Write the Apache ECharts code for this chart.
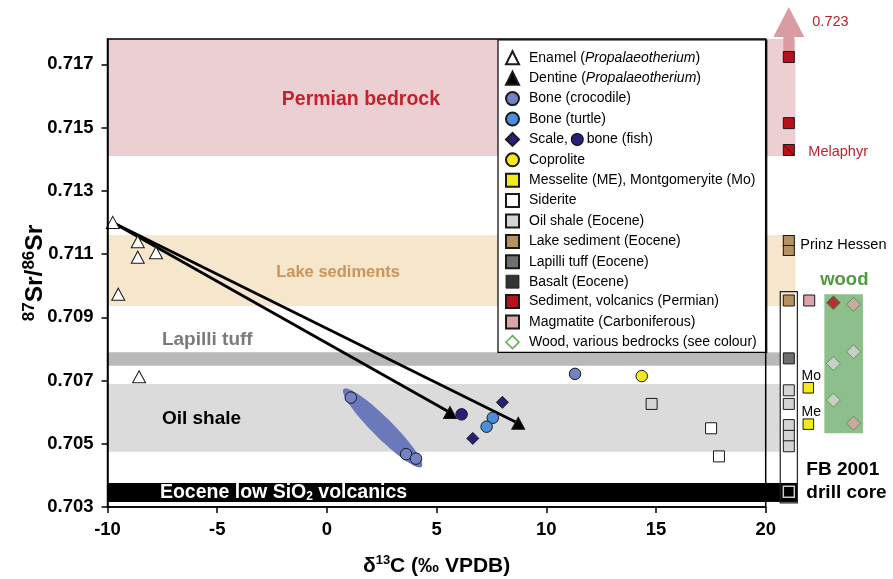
<!DOCTYPE html>
<html><head><meta charset="utf-8">
<script src="https://cdn.jsdelivr.net/npm/echarts@6/dist/echarts.min.js"></script>
<style>html,body{margin:0;padding:0;background:#fff}#c{width:893px;height:579px}</style>
</head><body><div id="c"></div>
<script>
// ---------------- DATA ----------------
const xTicks = [-10, -5, 0, 5, 10, 15, 20];
const yTicks = [0.703, 0.705, 0.707, 0.709, 0.711, 0.713, 0.715, 0.717];

// Main plot (x = d13C, y = 87Sr/86Sr)
const enamelX = [-9.76, -8.62, -8.62, -7.79, -9.51, -8.56];
const enamelY = [0.71200, 0.71139, 0.71090, 0.71104, 0.70973, 0.70712];
const dentineX = [5.61, 8.72];
const dentineY = [0.70599, 0.70565];
const crocX = [1.09, 3.61, 4.06, 11.31];
const crocY = [0.70646, 0.70467, 0.70453, 0.70721];
const turtleX = [7.56, 7.28];
const turtleY = [0.70582, 0.70554];
const fishScaleX = [8.00, 6.65];
const fishScaleY = [0.70631, 0.70517];
const fishBoneX = [6.14];
const fishBoneY = [0.70593];
const coproliteX = [14.35];
const coproliteY = [0.70714];
const oilShaleX = [14.80];
const oilShaleY = [0.70626];
const sideriteX = [17.51, 17.87];
const sideriteY = [0.70549, 0.70460];
// crocodile-bone field (ellipse end points)
const crocFieldX = [0.76, 4.32];
const crocFieldY = [0.70673, 0.70427];

// Reference bands
const bandNames = ['Permian bedrock', 'Lake sediments', 'Lapilli tuff', 'Oil shale', 'Eocene low SiO2 volcanics'];
const bandLow  = [0.71410, 0.70936, 0.70747, 0.70475, 0.70316];
const bandHigh = [0.71780, 0.71160, 0.70789, 0.70689, 0.70376];

// Right-hand columns (Sr only)
const coreLakeY = [0.70953];
const prinzHessenY = [0.71143, 0.71111];
const coreLapilliY = [0.70770];
const coreOilShaleY = [0.70669, 0.70626, 0.70559, 0.70525, 0.70492];
const coreBasaltY = [0.70348];
const permianY = [0.71723, 0.71514, 0.71429];
const permianRock = ['', '', 'Melaphyr'];
const permianMax = 0.723;
const magmatiteY = [0.70953];
const messeliteY = [0.70677, 0.70562];
const messeliteMineral = ['Mo', 'Me'];
const woodY = [0.70946, 0.70941, 0.70754, 0.70791, 0.70638, 0.70565];
const woodBedrock = ['Permian', 'Carboniferous', 'Oil shale', 'Oil shale', 'Oil shale', 'Carboniferous'];

// ---------------- LAYOUT / STYLE ----------------
const F = '"Liberation Sans", Arial, Helvetica, sans-serif';
const Y_MIN = 0.703, Y_MAX = 0.7178;
const X2_MAX = 25.789;
const COL_CORE = 21.04, COL_MAG = 21.97, COL_MES = 21.93, COL_WOOD = [23.07, 23.99];
const bandColors = ['#eccfd2', '#f6e6cb', '#b9b9b9', '#dbdbdb', '#000000'];
const bandRightEnd = [21.34, 21.34, 20.65, 20.65, 21.43];
const C = {
  croc: '#7382c4', turtle: '#4b8fdc', fish: '#27207a', copro: '#f2ea1c', mes: '#f2ea1c',
  oil: '#d4d4d4', lake: '#b59160', lap: '#6f6f6f', basalt: '#000', perm: '#b5121b', mag: '#dca3a9',
  woodEdge: '#4d8a3e', woodBox: '#8dbf8d', red: '#c0222d'
};
const woodColor = {'Permian': C.perm, 'Carboniferous': C.mag, 'Oil shale': C.oil};
const EDGE = '#1a1a1a';

function pts(xs, ys) { return ys.map((y, i) => [Array.isArray(xs) ? xs[i] : xs, y]); }
function sc(name, data, symbol, size, color, g, extra) {
  return Object.assign({
    type: 'scatter', name: name, xAxisIndex: g, yAxisIndex: g, symbol: symbol, symbolSize: size,
    itemStyle: {color: color, borderColor: EDGE, borderWidth: 1, opacity: 1},
    data: data, z: 5, animation: false
  }, extra || {});
}

// bands
function bandSeries(g, xs, xe) {
  return {
    type: 'custom', xAxisIndex: g, yAxisIndex: g, silent: true, z: 1,
    data: bandLow.map((lo, i) => [xs, lo, Array.isArray(xe) ? xe[i] : xe, bandHigh[i]]),
    renderItem: function (p, api) {
      const a = api.coord([api.value(0), api.value(3)]);
      const b = api.coord([api.value(2), api.value(1)]);
      return {type: 'rect', shape: {x: a[0], y: a[1], width: b[0] - a[0], height: b[1] - a[1]},
        style: {fill: bandColors[p.dataIndex]}};
    }
  };
}

// annotations
const notes = [
  {g: 0, x: 1.55, y: 0.71587, t: 'Permian bedrock', c: C.red, s: 19.5, w: 'bold', a: 'center'},
  {g: 0, x: 0.51, y: 0.71043, t: 'Lake sediments', c: '#c9955c', s: 16.5, w: 'bold', a: 'center'},
  {g: 0, x: -7.52, y: 0.70828, t: 'Lapilli tuff', c: '#7b7b7b', s: 19, w: 'bold', a: 'left'},
  {g: 0, x: -7.52, y: 0.70580, t: 'Oil shale', c: '#000', s: 19, w: 'bold', a: 'left'},
  {g: 0, x: -7.61, y: 0.70344, t: 'Eocene low SiO{sub|2} volcanics', c: '#fff', s: 19.5, w: 'bold', a: 'left'},
  {g: 1, x: 22.11, y: 0.71834, t: String(permianMax), c: C.red, s: 14.5, w: 'normal', a: 'left'},
  {g: 1, x: 21.93, y: 0.71423, t: 'Melaphyr', c: C.red, s: 14.5, w: 'normal', a: 'left'},
  {g: 1, x: 21.56, y: 0.71129, t: 'Prinz Hessen', c: '#000', s: 14.5, w: 'normal', a: 'left'},
  {g: 1, x: 23.57, y: 0.71018, t: 'wood', c: '#4e9a3e', s: 18.5, w: 'bold', a: 'center'},
  {g: 1, x: 21.84, y: 0.70417, t: 'FB 2001', c: '#000', s: 19, w: 'bold', a: 'left'},
  {g: 1, x: 21.84, y: 0.70344, t: 'drill core', c: '#000', s: 19, w: 'bold', a: 'left'}
];
function noteSeries(g) {
  const list = notes.filter(n => n.g === g);
  return {
    type: 'custom', xAxisIndex: g, yAxisIndex: g, silent: true, z: 8,
    data: list.map(n => [n.x, n.y]),
    renderItem: function (p, api) {
      const n = list[p.dataIndex];
      const c = api.coord([api.value(0), api.value(1)]);
      return {type: 'text', x: c[0], y: c[1], style: {
        text: n.t, fill: n.c, fontFamily: F, fontSize: n.s, fontWeight: n.w, align: n.a, verticalAlign: 'middle',
        rich: {sub: {fill: n.c, color: n.c, fontFamily: F, fontSize: 12, fontWeight: 'bold', padding: [7, 0, 0, 0]}}
      }};
    }
  };
}

// legend
const legendNames = [
  'Enamel (Propalaeotherium)', 'Dentine (Propalaeotherium)', 'Bone (crocodile)', 'Bone (turtle)',
  'Scale, bone (fish)', 'Coprolite', 'Messelite (ME), Montgomeryite (Mo)', 'Siderite', 'Oil shale (Eocene)',
  'Lake sediment (Eocene)', 'Lapilli tuff (Eocene)', 'Basalt (Eocene)', 'Sediment, volcanics (Permian)',
  'Magmatite (Carboniferous)', 'Wood, various bedrocks (see colour)'
];
function legendFmt(name) {
  if (name.indexOf('(Propalaeotherium)') > 0) return '{sp|}{t|' + name.split(' (')[0] + ' (}{i|Propalaeotherium}{t|)}';
  if (name === 'Scale, bone (fish)') return '{sp|}{t|Scale, }{dot|}{t| bone (fish)}';
  return '{sp|}{t|' + name + '}';
}
const legendIconOverride = {
  'Basalt (Eocene)': {color: '#000', borderColor: EDGE, borderWidth: 1},
  'Wood, various bedrocks (see colour)': {color: '#fff', borderColor: '#3f9a2e', borderWidth: 1.5}
};

const series = [
  bandSeries(0, -10, 20),
  bandSeries(1, 20, bandRightEnd),
  // crocodile field ellipse
  {
    type: 'custom', xAxisIndex: 0, yAxisIndex: 0, silent: true, z: 2,
    data: [[crocFieldX[0], crocFieldY[0], crocFieldX[1], crocFieldY[1]]],
    renderItem: function (p, api) {
      const a = api.coord([api.value(0), api.value(1)]);
      const b = api.coord([api.value(2), api.value(3)]);
      const cx = (a[0] + b[0]) / 2, cy = (a[1] + b[1]) / 2;
      const rx = Math.hypot(b[0] - a[0], b[1] - a[1]) / 2, ry = 10;
      const ang = Math.atan2(b[1] - a[1], b[0] - a[0]);
      const poly = [];
      for (let k = 0; k < 72; k++) {
        const t = k / 72 * Math.PI * 2;
        const ex = rx * Math.cos(t), ey = ry * Math.sin(t);
        poly.push([cx + ex * Math.cos(ang) - ey * Math.sin(ang), cy + ex * Math.sin(ang) + ey * Math.cos(ang)]);
      }
      return {type: 'polygon', shape: {points: poly}, style: {fill: '#6b78ba'}};
    }
  },
  // wood box and drill core frame (grid 2)
  {
    type: 'custom', xAxisIndex: 1, yAxisIndex: 1, silent: true, z: 2,
    data: [[22.66, 0.70533, 24.42, 0.70973, 0], [20.65, 0.70313, 21.43, 0.70981, 1]],
    renderItem: function (p, api) {
      const a = api.coord([api.value(0), api.value(3)]);
      const b = api.coord([api.value(2), api.value(1)]);
      const frame = api.value(4) === 1;
      return {type: 'rect', shape: {x: a[0], y: a[1], width: b[0] - a[0], height: b[1] - a[1]},
        style: frame ? {fill: 'none', stroke: '#222', lineWidth: 1.2} : {fill: C.woodBox}, z2: frame ? 10 : 0};
    }
  },
  // arrow toward 0.723
  {
    type: 'custom', xAxisIndex: 1, yAxisIndex: 1, silent: true, z: 2,
    data: [[COL_CORE, 0.71723, 0.71786, 0.71881]],
    renderItem: function (p, api) {
      const bot = api.coord([api.value(0), api.value(1)]);
      const base = api.coord([api.value(0), api.value(2)]);
      const tip = api.coord([api.value(0), api.value(3)]);
      const x = bot[0];
      return {type: 'polygon', shape: {points: [
        [x - 5.5, bot[1]], [x + 5.5, bot[1]], [x + 5.5, base[1]], [x + 15.5, base[1]], [x, tip[1]],
        [x - 15.5, base[1]], [x - 5.5, base[1]]]}, style: {fill: '#d99ca3'}};
    }
  },
  // enamel -> dentine arrows
  ...dentineX.map((dx, i) => ({
    type: 'line', xAxisIndex: 0, yAxisIndex: 0, silent: true, symbol: 'none', z: 3,
    data: [[enamelX[0], enamelY[0]], [dx, dentineY[i]]], lineStyle: {color: '#000', width: 2.8}, animation: false
  })),
  // main-plot samples
  sc(legendNames[0], pts(enamelX, enamelY), 'triangle', [13, 12], '#fff', 0),
  sc(legendNames[1], pts(dentineX, dentineY), 'triangle', [13, 12], '#000', 0),
  sc(legendNames[2], pts(crocX, crocY), 'circle', 11.5, C.croc, 0),
  sc(legendNames[3], pts(turtleX, turtleY), 'circle', 11.5, C.turtle, 0),
  sc(legendNames[4], pts(fishScaleX, fishScaleY), 'diamond', 12, C.fish, 0),
  sc('fish bone', pts(fishBoneX, fishBoneY), 'circle', 11.5, C.fish, 0),
  sc(legendNames[5], pts(coproliteX, coproliteY), 'circle', 11.5, C.copro, 0),
  sc(legendNames[8], pts(oilShaleX, oilShaleY), 'rect', 11, C.oil, 0),
  sc(legendNames[7], pts(sideriteX, sideriteY), 'rect', 11, '#fff', 0),
  // right-hand columns
  sc(legendNames[6], pts(COL_MES, messeliteY).map((v, i) => ({value: v, mineral: messeliteMineral[i]})), 'rect', 10.5, C.mes, 1, {
    label: {show: true, formatter: p => p.data.mineral, position: [-1, -6], align: 'left', verticalAlign: 'middle',
      fontFamily: F, fontSize: 14, color: '#000'}
  }),
  sc(legendNames[8], pts(COL_CORE, coreOilShaleY), 'rect', 11, C.oil, 1),
  sc(legendNames[9], pts(COL_CORE, coreLakeY).concat(pts(COL_CORE, prinzHessenY)).map((v, i) => ({value: v, symbolSize: i === 0 ? 11 : [11, 10]})), 'rect', 11, C.lake, 1),
  sc(legendNames[10], pts(COL_CORE, coreLapilliY), 'rect', 11, C.lap, 1),
  sc(legendNames[11], pts(COL_CORE, coreBasaltY), 'rect', 11, C.basalt, 1, {itemStyle: {color: '#000', borderColor: '#fff', borderWidth: 1.5}}),
  sc(legendNames[12], pts(COL_CORE, permianY).map((v, i) => permianRock[i] === 'Melaphyr'
      ? {value: v, symbol: 'path://M0,0H10V10H0Z M0,0L10,10'} : {value: v}), 'rect', 11, C.perm, 1),
  sc(legendNames[13], pts(COL_MAG, magmatiteY), 'rect', 11, C.mag, 1),
  sc(legendNames[14], pts(woodY.map((y, i) => COL_WOOD[i % 2]), woodY).map((v, i) => ({
    value: v, itemStyle: {color: woodColor[woodBedrock[i]]}})), 'diamond', 14, '#fff', 1,
    {itemStyle: {color: '#fff', borderColor: C.woodEdge, borderWidth: 1}}),
  noteSeries(0),
  noteSeries(1)
];

const axisFont = {fontFamily: F, fontSize: 18.5, fontWeight: 'bold', color: '#000'};
const option = {
  animation: false,
  backgroundColor: '#fff',
  grid: [
    {left: 107.5, right: 127.3, top: 39, bottom: 72, show: true, borderColor: '#000', borderWidth: 1.5,
      backgroundColor: 'transparent', z: 10, containLabel: false, outerBoundsMode: 'none'},
    {left: 766, right: 0, top: 39, bottom: 72, show: false, containLabel: false, outerBoundsMode: 'none'}
  ],
  xAxis: [
    {gridIndex: 0, type: 'value', min: xTicks[0], max: xTicks[xTicks.length - 1], interval: 5, z: 10,
      axisLine: {onZero: false, lineStyle: {color: '#000', width: 1.5}},
      axisTick: {show: true, length: 6, lineStyle: {color: '#000', width: 1.5}},
      axisLabel: Object.assign({margin: 13, formatter: v => String(v)}, axisFont),
      splitLine: {show: false},
      name: '{b|δ}{s|13}{b|C (‰ VPDB)}', nameLocation: 'middle', nameGap: 47, nameMoveOverlap: false,
      nameTextStyle: {rich: {
        b: {fontFamily: F, fontSize: 21, fontWeight: 'bold', color: '#000'},
        s: {fontFamily: F, fontSize: 13, fontWeight: 'bold', color: '#000', padding: [0, 0, 12, 0]}}}},
    {gridIndex: 1, type: 'value', min: 20, max: X2_MAX, show: false, splitLine: {show: false}}
  ],
  yAxis: [
    {gridIndex: 0, type: 'value', min: Y_MIN, max: Y_MAX, z: 10,
      axisLine: {onZero: false, lineStyle: {color: '#000', width: 1.5}},
      axisTick: {show: true, length: 6, customValues: yTicks, lineStyle: {color: '#000', width: 1.5}},
      axisLabel: Object.assign({margin: 14, customValues: yTicks, formatter: v => v.toFixed(3)}, axisFont),
      splitLine: {show: false},
      name: '{s|87}{b|Sr/}{s|86}{b|Sr}', nameLocation: 'middle', nameGap: 57, nameMoveOverlap: false,
      nameTextStyle: {rich: {
        b: {fontFamily: F, fontSize: 24.5, fontWeight: 'bold', color: '#000'},
        s: {fontFamily: F, fontSize: 17, fontWeight: 'bold', color: '#000', padding: [0, 0, 13, 0]}}}},
    {gridIndex: 1, type: 'value', min: Y_MIN, max: Y_MAX, show: false, splitLine: {show: false}}
  ],
  legend: {
    orient: 'vertical', left: 498, top: 40, z: 6,
    backgroundColor: '#fff', borderColor: '#000', borderWidth: 1.2, borderRadius: 0,
    padding: [10.3, 10, 3, 7], itemWidth: 13, itemHeight: 13, itemGap: 5.4,
    selectedMode: false,
    data: legendNames.map(n => legendIconOverride[n] ? {name: n, itemStyle: legendIconOverride[n]} : {name: n}),
    formatter: legendFmt,
    textStyle: {fontFamily: F, fontSize: 14, color: '#000', rich: {
      sp: {width: 5, lineHeight: 14},
      t: {fontFamily: F, fontSize: 14, color: '#000', lineHeight: 14},
      i: {fontFamily: F, fontSize: 14, color: '#000', fontStyle: 'italic', lineHeight: 14},
      dot: {width: 11, height: 11, borderRadius: 6, backgroundColor: C.fish, borderColor: '#000', borderWidth: 1, lineHeight: 14}
    }}
  },
  series: series
};
const chart = echarts.init(document.getElementById('c'), null, {renderer: 'canvas'});
chart.setOption(option);
</script></body></html>
